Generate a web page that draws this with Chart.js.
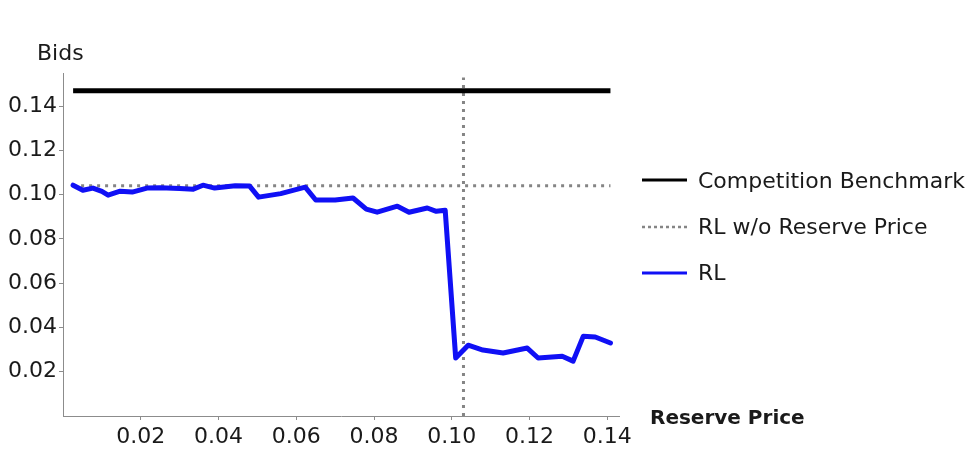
<!DOCTYPE html>
<html>
<head>
<meta charset="utf-8">
<script src="https://cdn.jsdelivr.net/npm/chart.js@4.4.0/dist/chart.umd.min.js"></script>
<style>
    html, body { margin: 0; padding: 0; background: #fff; }
    #wrap { width: 979px; height: 449px; position: relative; }
</style>
</head>
<body>
<div id="wrap"><canvas id="bidsChart" width="979" height="449"></canvas></div>
<script>
// Reserve price grid and the RL bids learned at each one
const reservePrice = [
    0.0026, 0.0051, 0.0077, 0.0100, 0.0116, 0.0147, 0.0178, 0.0216, 0.0250, 0.0300,
    0.0335, 0.0360, 0.0390, 0.0443, 0.0480, 0.0503, 0.0560, 0.0623, 0.0650, 0.0700,
    0.0746, 0.0780, 0.0808, 0.0860, 0.0890, 0.0937, 0.0960, 0.0983, 0.1010, 0.1042,
    0.1080, 0.1132, 0.1194, 0.1222, 0.1284, 0.1312, 0.1338, 0.1369, 0.1408
];
const rlBids = [
    0.1043, 0.1020, 0.1030, 0.1015, 0.0998, 0.1016, 0.1012, 0.1030, 0.1032, 0.1028,
    0.1025, 0.1043, 0.1030, 0.1040, 0.1039, 0.0989, 0.1005, 0.1034, 0.0976, 0.0976,
    0.0985, 0.0935, 0.0921, 0.0948, 0.0921, 0.0940, 0.0925, 0.0930, 0.0262, 0.0320,
    0.0298, 0.0285, 0.0307, 0.0262, 0.0270, 0.0248, 0.0360, 0.0357, 0.0330
];

// Reference levels
const benchmarkBid = 0.147;
const noReserveBid = 0.104;
const cutoffPrice = 0.103;
const cutoffTop = 0.153;
const priceRange = [0.0026, 0.1408];

// Axis ticks
const xTicks = [0.02, 0.04, 0.06, 0.08, 0.10, 0.12, 0.14];
const yTicks = [0.02, 0.04, 0.06, 0.08, 0.10, 0.12, 0.14];

const legendItems = ['Competition Benchmark', 'RL w/o Reserve Price', 'RL'];

const FONT = '"DejaVu Sans", sans-serif';
const TEXT_COLOR = '#1a1a1a';
const AXIS_COLOR = '#8c8c8c';
const DOT_COLOR = '#858585';
const DOTS = [3, 5];

// Axis captions and the legend drawn on the right-hand side
const annotationPlugin = {
    id: 'annotations',
    afterDraw(chart) {
        const ctx = chart.ctx;
        ctx.save();
        ctx.fillStyle = TEXT_COLOR;
        ctx.textBaseline = 'alphabetic';
        ctx.textAlign = 'left';

        ctx.font = '22px ' + FONT;
        ctx.fillText('Bids', 37, 60);

        ctx.font = 'bold 20px ' + FONT;
        ctx.fillText('Reserve Price', 650, 424);

        // legend rows
        const rows = [
            { ds: chart.data.datasets[1], lineY: 180, textY: 188 },
            { ds: chart.data.datasets[2], lineY: 227, textY: 234 },
            { ds: chart.data.datasets[0], lineY: 273, textY: 280 }
        ];
        rows.forEach(row => {
            ctx.beginPath();
            ctx.strokeStyle = row.ds.borderColor;
            ctx.lineWidth = row.ds.borderDash.length ? 2.5 : 3;
            ctx.setLineDash(row.ds.borderDash.length ? [3, 3] : []);
            ctx.moveTo(642, row.lineY);
            ctx.lineTo(687, row.lineY);
            ctx.stroke();
            ctx.setLineDash([]);
            ctx.font = '22px ' + FONT;
            ctx.fillStyle = TEXT_COLOR;
            ctx.fillText(row.ds.label, 698, row.textY);
        });
        ctx.restore();
    }
};

const ctx = document.getElementById('bidsChart');

new Chart(ctx, {
    type: 'line',
    data: {
        datasets: [
            {
                label: legendItems[2],
                data: reservePrice.map((p, i) => ({ x: p, y: rlBids[i] })),
                borderColor: '#1010f5',
                borderWidth: 5,
                borderDash: [],
                borderJoinStyle: 'round',
                borderCapStyle: 'round',
                pointRadius: 0,
                tension: 0,
                order: 0
            },
            {
                label: legendItems[0],
                data: priceRange.map(p => ({ x: p, y: benchmarkBid })),
                borderColor: '#000',
                borderWidth: 5,
                borderDash: [],
                pointRadius: 0,
                order: 1
            },
            {
                label: legendItems[1],
                data: priceRange.map(p => ({ x: p, y: noReserveBid })),
                borderColor: DOT_COLOR,
                borderWidth: 3,
                borderDash: DOTS,
                pointRadius: 0,
                order: 2
            },
            {
                label: 'cutoff',
                data: [{ x: cutoffPrice, y: 0 }, { x: cutoffPrice, y: cutoffTop }],
                borderColor: DOT_COLOR,
                borderWidth: 3,
                borderDash: DOTS,
                pointRadius: 0,
                order: 3
            }
        ]
    },
    options: {
        responsive: false,
        animation: false,
        events: [],
        layout: {
            padding: { left: 0, top: 73, right: 360, bottom: 0 }
        },
        plugins: {
            legend: { display: false },
            tooltip: { enabled: false }
        },
        scales: {
            x: {
                type: 'linear',
                min: 0,
                max: 0.143,
                afterBuildTicks: scale => {
                    scale.ticks = xTicks.map(v => ({ value: v }));
                },
                afterFit: scale => { scale.height = 33; },
                border: { display: true, color: AXIS_COLOR, width: 1 },
                grid: {
                    drawOnChartArea: false,
                    drawTicks: true,
                    tickLength: 4,
                    color: AXIS_COLOR
                },
                ticks: {
                    padding: 4,
                    maxRotation: 0,
                    color: TEXT_COLOR,
                    font: { family: FONT, size: 22 },
                    callback: v => v.toFixed(2)
                }
            },
            y: {
                type: 'linear',
                min: 0,
                max: 0.155,
                afterBuildTicks: scale => {
                    scale.ticks = yTicks.map(v => ({ value: v }));
                },
                afterFit: scale => { scale.width = 63; },
                border: { display: true, color: AXIS_COLOR, width: 1 },
                grid: {
                    drawOnChartArea: false,
                    drawTicks: true,
                    tickLength: 4,
                    color: AXIS_COLOR
                },
                ticks: {
                    padding: 2,
                    color: TEXT_COLOR,
                    font: { family: FONT, size: 22 },
                    callback: v => v.toFixed(2)
                }
            }
        }
    },
    plugins: [annotationPlugin]
});
</script>
</body>
</html>
